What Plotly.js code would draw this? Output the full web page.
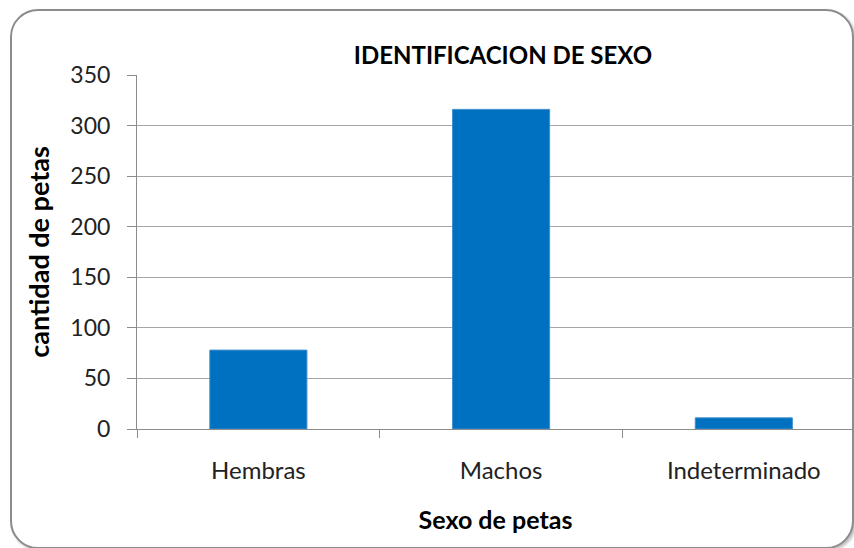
<!DOCTYPE html>
<html>
<head>
<meta charset="utf-8">
<script src="https://cdn.plot.ly/plotly-3.0.1.min.js"></script>
<style>
  html, body { margin: 0; padding: 0; background: #fff; overflow: hidden; }
  #wrap { position: relative; width: 854px; height: 548px; }
  #frame { position: absolute; left: 10px; top: 9px; width: 840px; height: 536px;
           border: 2px solid #8c8c8c; border-radius: 28px; box-shadow: 2px 2px 3px rgba(0,0,0,0.25); background: #fff; }
  #chart { position: absolute; left: 0; top: 0; width: 854px; height: 548px; }
</style>
</head>
<body>
<div id="wrap">
  <div id="frame"></div>
  <div id="chart"></div>
</div>
<script>
const categories = ["Hembras", "Machos", "Indeterminado"];
const values = [78, 316, 11];
const yTicks = [0, 50, 100, 150, 200, 250, 300, 350];

const font = "Lato, 'Open Sans', sans-serif";

const data = [{
  type: "bar",
  x: categories,
  y: values,
  marker: { color: "#0070c0", line: { color: "#3f8fd0", width: 1 } },
  hoverinfo: "x+y"
}];

const layout = {
  width: 854, height: 548,
  margin: { l: 137, r: 0, t: 75, b: 119 },
  paper_bgcolor: "rgba(0,0,0,0)",
  plot_bgcolor: "rgba(0,0,0,0)",
  bargap: 0.6,
  showlegend: false,
  title: {
    text: "<b>IDENTIFICACION DE SEXO</b>",
    font: { family: font, size: 24, color: "#000" },
    xref: "container", yref: "container",
    x: 503 / 854, y: 1 - 56 / 548, xanchor: "center", yanchor: "middle"
  },
  xaxis: {
    type: "category",
    range: [-0.5, 2.454],
    showline: true, linecolor: "#8c8c8c", linewidth: 1,
    ticks: "outside", ticklen: 8, tickcolor: "#8c8c8c",
    tickson: "boundaries",
    showgrid: false,
    tickfont: { family: font, size: 24, color: "#222" },
    ticklabelstandoff: 20,
    title: { text: "<b>Sexo de petas</b>", font: { family: font, size: 25, color: "#000" }, standoff: 28 }
  },
  yaxis: {
    range: [0, 350],
    tickvals: yTicks,
    ticktext: yTicks.map(String),
    showline: true, linecolor: "#8c8c8c", linewidth: 1,
    ticks: "outside", ticklen: 9, tickcolor: "#8c8c8c",
    showgrid: true, gridcolor: "#a6a6a6", gridwidth: 1,
    zeroline: false,
    tickfont: { family: font, size: 23, color: "#222" },
    ticklabelstandoff: 12,
    title: { text: "<b>cantidad de petas</b>", font: { family: font, size: 27, color: "#000" }, standoff: 12 }
  }
};

Plotly.newPlot("chart", data, layout, { displayModeBar: false, staticPlot: true });
</script>
</body>
</html>
